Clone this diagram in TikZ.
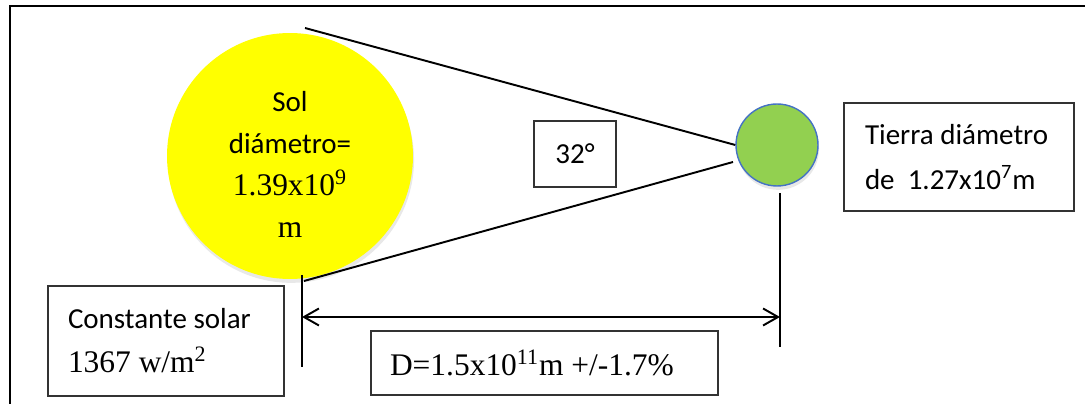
\documentclass[tikz,border=0pt]{standalone}
\usepackage{fontspec}
\setmainfont{Liberation Serif}
\newfontfamily\carlito{Carlito}
\usetikzlibrary{arrows.meta,shadows}
\definecolor{solamarillo}{HTML}{FFFF00}
\definecolor{tierraverde}{HTML}{92D050}
\definecolor{tierraazul}{HTML}{4472C4}
\newcommand\textocal{\carlito\fontsize{16.5}{22.8}\selectfont}
\tikzset{
  caja/.style={draw=black!80, line width=0.7pt, inner ysep=0pt},
  linea/.style={line width=1.1pt},
  marco/.style={line width=1.5pt},
  calib/.style={font=\textocal},
  roman/.style={font=\fontsize{17.9}{25}\selectfont},
  sombra/.style={drop shadow={opacity=0.18, shadow xshift=0.6pt, shadow yshift=-2.2pt}},
  flecha/.style={<->, >={Straight Barb[length=0.3cm, width=0.34cm]}}
}
\begin{document}
\begin{tikzpicture}[x=0.02cm, y=-0.02cm]
  \useasboundingbox (0,0) rectangle (1085,404);
  \draw[marco] (10,404) -- (10,6) -- (1085,6);

  \node[circle, fill=solamarillo, minimum size=4.92cm, inner sep=0pt, sombra] (sol) at (290,156) {};
  \node[align=center, font=\fontsize{17.9}{23.9}\selectfont] (soltexto) at (290,164)
        {{\textocal Sol}\\{\textocal diámetro=}\\1.39x10\textsuperscript{9}\\m};
  \node[circle, fill=tierraverde, draw=tierraazul, line width=0.8pt,
        minimum size=1.64cm, inner sep=0pt, sombra] (tierra) at (777,145) {};

  \coordinate (solarriba) at (305,28);
  \coordinate (solabajo) at (304,281);
  \coordinate (tabajo) at (733,162);
  \draw[linea] (solarriba) -- (tierra.west);
  \draw[linea] (solabajo) -- (tabajo);

  \coordinate (izq1) at (302,275);
  \coordinate (izq2) at (302,367);
  \coordinate (der1) at (780,193);
  \coordinate (der2) at (780,347);
  \coordinate (fizq) at (302,317);
  \coordinate (fder) at (780,317);
  \draw[linea] (izq1) -- (izq2);
  \draw[linea] (der1) -- (der2);
  \draw[linea, flecha] (fizq) -- (fder);

  \node[caja, calib, minimum width=1.64cm, minimum height=1.32cm] (angulo) at (575,154) {32°};
  \node[caja, calib, inner xsep=0.42cm, text width=3.76cm, minimum height=2.16cm,
        align=flush left] (tdiam) at (959,157)
        {Tierra diámetro\\[0.1cm]de~~1.27x10\textsuperscript{7}m};
  \node[caja, roman, inner xsep=0.4cm, text width=3.92cm, minimum height=2.2cm,
        align=flush left] (constante) at (166,341)
        {{\textocal Constante solar}\\1367 w/m\textsuperscript{2}};
  \node[caja, roman, inner xsep=0.38cm, text width=6.18cm, minimum height=1.28cm,
        align=flush left] (distancia) at (544.5,363)
        {D=1.5x10\textsuperscript{11}m +/-1.7\%};
\end{tikzpicture}
\end{document}
